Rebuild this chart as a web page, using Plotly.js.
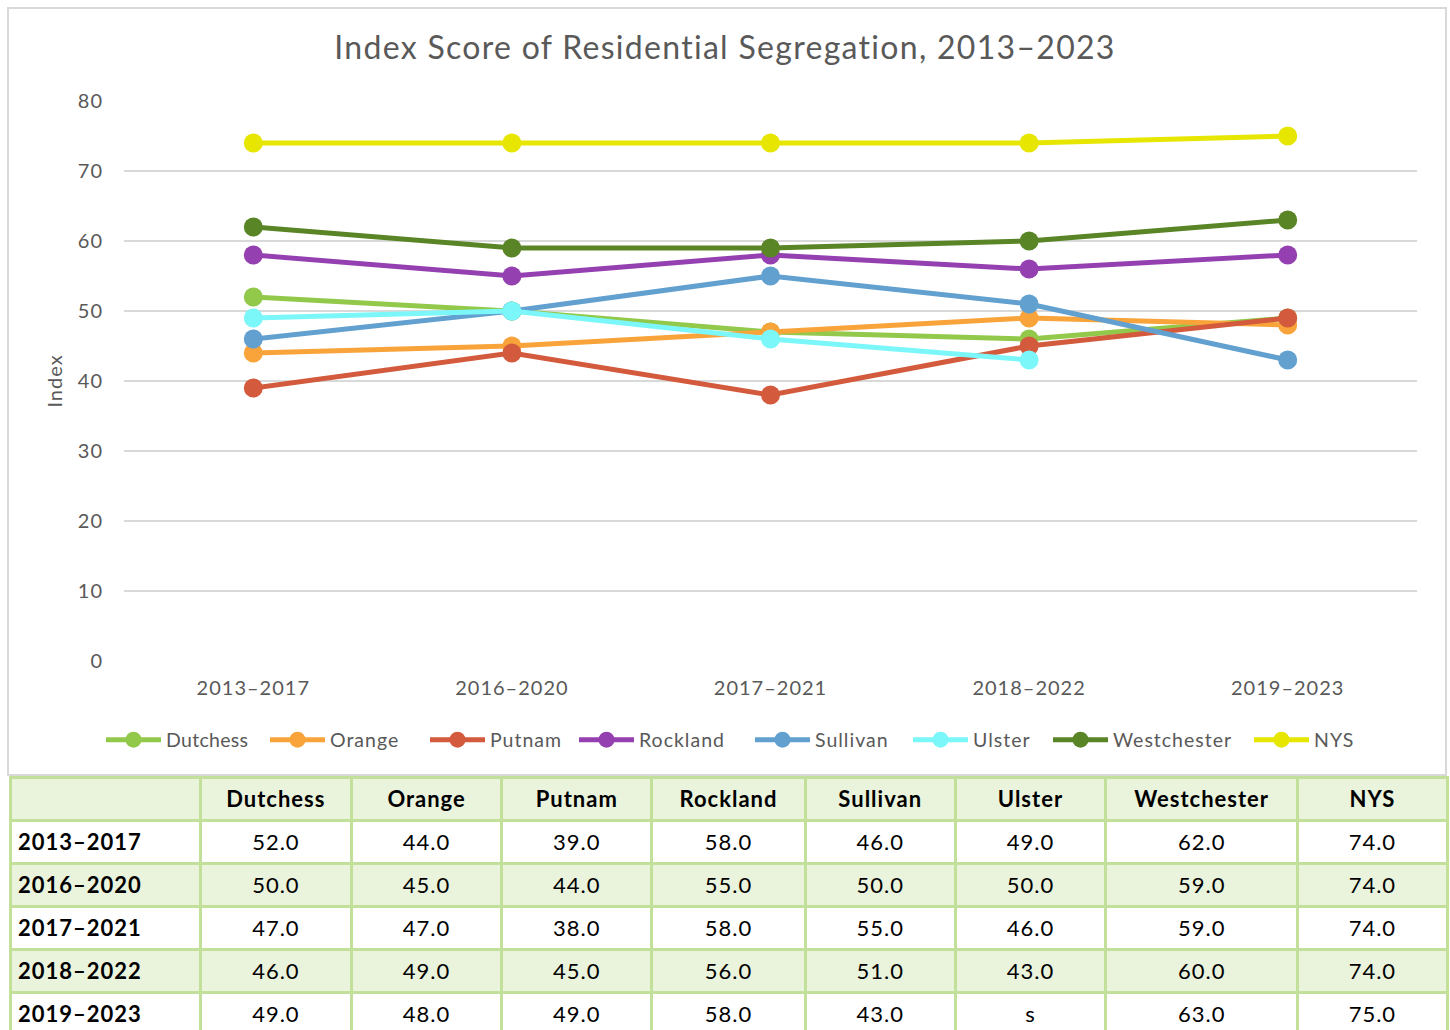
<!DOCTYPE html>
<html>
<head>
<meta charset="utf-8">
<script src="https://cdn.plot.ly/plotly-3.0.1.min.js"></script>
<style>
  html, body { margin: 0; padding: 0; background: #ffffff; }
  #chart { width: 1450px; height: 1030px; }
  text { letter-spacing: 1px; }
  text.gtitle { letter-spacing: 1.3px; }
  text.legendtext { letter-spacing: 0.3px; }
</style>
</head>
<body>
<div id="chart"></div>
<script>
// ---- data ----
const periods = ["2013–2017", "2016–2020", "2017–2021", "2018–2022", "2019–2023"];
const seriesNames = ["Dutchess", "Orange", "Putnam", "Rockland", "Sullivan", "Ulster", "Westchester", "NYS"];
const dutchess    = [52, 50, 47, 46, 49];
const orange      = [44, 45, 47, 49, 48];
const putnam      = [39, 44, 38, 45, 49];
const rockland    = [58, 55, 58, 56, 58];
const sullivan    = [46, 50, 55, 51, 43];
const ulster      = [49, 50, 46, 43, null];   // 2019–2023 suppressed ("s")
const westchester = [62, 59, 59, 60, 63];
const nys         = [74, 74, 74, 74, 75];
const yTicks = [0, 10, 20, 30, 40, 50, 60, 70, 80];

const seriesValues = [dutchess, orange, putnam, rockland, sullivan, ulster, westchester, nys];
const seriesColors = ["#92C94A", "#F8A43A", "#D35A3C", "#9440B0", "#62A0CF", "#7BF7FA", "#5A8527", "#E6E600"];

const W = 1450, H = 1030;
const px = x => x / W;
const py = y => 1 - y / H;

const font = "Lato, 'Open Sans', 'DejaVu Sans', sans-serif";
const gray = "#595959";

// left pixel edge of each legend entry (layout only)
const legendLeft = [107, 271, 431, 580, 756, 914, 1054, 1255];
const legendIds = seriesNames.map((n, i) => i === 0 ? "legend" : "legend" + (i + 1));

const traces = seriesNames.map((name, i) => ({
  type: "scatter",
  mode: "lines+markers",
  name: name,
  x: periods,
  y: seriesValues[i],
  line: { color: seriesColors[i], width: 5 },
  marker: { color: seriesColors[i], size: 19 },
  connectgaps: false,
  legend: legendIds[i],
  xaxis: "x", yaxis: "y",
  hoverinfo: "x+y+name"
}));

// ---- table ----
const fmt = v => (v === null || v === undefined) ? "s" : v.toFixed(1);
const headerVals = [""].concat(seriesNames.map(n => "<b>" + n + "</b>"));
const cellVals = [periods.map(p => "<b>" + p + "</b>")]
  .concat(seriesValues.map(arr => arr.map(v => "<span>" + fmt(v) + "</span>")));
const rowFill = periods.map((p, r) => r % 2 === 1 ? "#EAF3DC" : "#FFFFFF");
const cellFill = headerVals.map(() => rowFill);

traces.push({
  type: "table",
  domain: { x: [px(10), px(1447)], y: [0, py(777)] },
  columnwidth: [190, 151, 150, 150, 153, 150, 150, 192, 149],
  header: {
    values: headerVals,
    align: "center",
    height: 43,
    fill: { color: "#EAF3DC" },
    line: { color: "#C3E09A", width: 3 },
    font: { family: font, size: 22, color: "#000000" }
  },
  cells: {
    values: cellVals,
    align: ["left", "center", "center", "center", "center", "center", "center", "center", "center"],
    height: 42,
    fill: { color: cellFill },
    line: { color: "#C3E09A", width: 3 },
    font: { family: font, size: 22, color: "#000000" }
  }
});

const layout = {
  width: W, height: H,
  margin: { l: 0, r: 0, t: 0, b: 0 },
  paper_bgcolor: "#ffffff",
  plot_bgcolor: "#ffffff",
  showlegend: true,
  title: {
    text: "Index Score of Residential Segregation, 2013–2023",
    font: { family: font, size: 32, color: gray },
    x: 0.5, xanchor: "center",
    y: py(48), yanchor: "middle"
  },
  xaxis: {
    domain: [px(124), px(1417)],
    type: "category",
    range: [-0.5, 4.5],
    showgrid: false,
    zeroline: false,
    showline: false,
    ticks: "",
    ticklabelstandoff: 13,
    tickfont: { family: font, size: 20, color: gray },
    fixedrange: true
  },
  yaxis: {
    domain: [py(661), py(101)],
    range: [0, 80],
    tickvals: yTicks,
    ticktext: yTicks.map(String),
    showgrid: true,
    gridcolor: "#D9D9D9",
    gridwidth: 1.5,
    zeroline: false,
    showline: false,
    ticks: "",
    ticklabelstandoff: 20,
    tickfont: { family: font, size: 20, color: gray },
    title: { text: "Index", font: { family: font, size: 20, color: gray }, standoff: 9 },
    fixedrange: true
  },
  shapes: [{
    type: "rect", xref: "paper", yref: "paper",
    x0: px(8), x1: px(1446), y0: py(775), y1: py(8),
    line: { color: "#D9D9D9", width: 2 },
    fillcolor: "rgba(0,0,0,0)",
    layer: "below"
  }]
};

legendIds.forEach((id, i) => {
  layout[id] = {
    orientation: "h",
    x: px(legendLeft[i] - 6), xanchor: "left",
    y: py(740), yanchor: "middle",
    font: { family: font, size: 19.5, color: gray },
    itemwidth: 55,
    bgcolor: "rgba(0,0,0,0)",
    borderwidth: 0
  };
});

Plotly.newPlot("chart", traces, layout, { displayModeBar: false, staticPlot: true });
</script>
</body>
</html>
